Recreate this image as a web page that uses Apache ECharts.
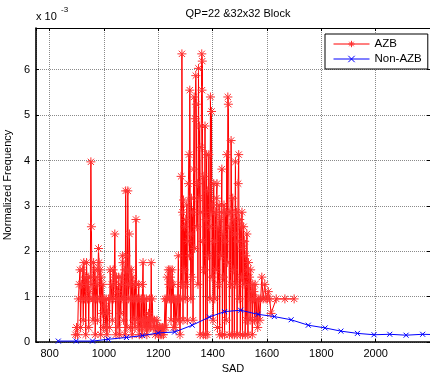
<!DOCTYPE html>
<html>
<head>
<meta charset="utf-8">
<script src="https://cdn.jsdelivr.net/npm/echarts@6/dist/echarts.min.js"></script>
<style>html,body{margin:0;padding:0;background:#fff;}#c{width:430px;height:374px;}</style>
</head>
<body>
<div id="c"></div>
<script>
// ---- data (frequency in units of 1e-3) ----
const titleText = 'QP=22 &32x32 Block';
const xTickLabels = ['800','1000','1200','1400','1600','1800','2000'];
const yTickLabels = ['0','1','2','3','4','5','6'];

const sadAZB = [
 895,899,903,906,909,912,914,917,919,921,924,926,929,931,933,936,938,940,942,944,946,948,950,952,954,956,958,960,962,964,966,968,970,972,974,976,978,980,982,984,986,988,990,992,994,996,998,1000,
 1002,1005,1008,1011,1014,1017,1020,1023,1026,1029,1031,1034,1036,1038,1040,1042,1044,1046,1048,1050,1052,1054,1056,1058,1060,1062,1064,1066,1068,1070,1072,1074,1076,1078,1080,1082,1084,1086,1088,1090,1092,1094,1096,1098,1100,1102,1104,1106,1108,1110,1112,1114,1116,1118,1120,1122,1124,1126,1128,1130,1132,1134,1136,1138,1140,1142,1144,1146,1148,1150,1152,1154,1156,1158,1160,1162,1164,1166,1168,1170,1172,1174,1176,1178,
 1180,1183,1186,1189,1192,1195,1198,1201,1204,1207,1210,1213,1216,1219,1222,1225,1228,1231,1233,1235,1237,1239,1241,1243,1245,1247,1249,1251,1253,1255,1257,1259,1262,1265,1268,1271,1274,1276,1278,1280,1282,1284,
 1286,1287,1289,1291,1293,1295,1297,1299,1301,1303,1305,1307,1309,1311,1313,1315,1316,1318,1320,1322,1324,1326,1328,1330,1332,1334,1336,1338,1340,1342,1344,1346,1348,1350,1352,1354,1356,1358,1360,1361,1362,1364,1366,1368,1370,1372,1374,1376,1378,1380,1382,1384,1386,1388,1390,1392,1394,1396,1398,1400,1402,1404,1406,1408,1410,1412,1414,1416,1418,1420,1422,1424,1426,1428,1430,1432,1434,1436,1438,1440,1442,1444,1446,1448,1450,1452,1454,1456,1458,1460,1462,1464,1466,1468,1470,1472,1474,1476,1478,1480,1482,1484,1486,1488,1490,1492,1494,1496,1498,1500,
 1502,1504,1506,1508,1510,1512,1514,1516,1518,1520,1522,1524,1526,1528,1530,1532,1534,1536,1538,1540,1542,1544,1546,1548,1550,1552,1554,1556,1560,1563,1566,1570,1574,1577,1581,1586,1592,1597,1602,1605,1610,1615,1634,1666,1700
];
const freqAZB = [
 0.16,0.32,0.16,0.95,1.27,1.59,0.32,1.27,0.95,1.59,0.48,1.75,0.95,1.43,0.16,1.75,1.27,0.95,1.43,0.32,1.11,0.95,1.43,3.97,2.54,1.27,0.95,0.48,1.75,0.95,1.59,0.16,1.43,0.95,1.27,0.48,1.59,2.06,1.75,0.95,1.59,0.16,1.43,0.95,0.63,1.27,0.32,0.95,
 0.79,0.32,0.95,0.16,0.63,0.95,0.32,1.59,0.95,1.27,0.48,1.59,0.95,1.43,2.38,1.27,0.16,1.43,0.95,1.11,0.32,1.43,0.95,0.16,1.27,0.63,1.43,0.95,1.90,1.75,0.48,0.95,1.59,0.16,3.33,1.90,0.32,1.27,3.33,0.95,1.59,2.38,1.27,0.32,1.59,0.95,0.16,1.43,0.95,0.48,1.27,0.32,0.95,2.70,1.27,0.48,0.95,0.32,1.27,0.16,0.95,0.48,0.32,0.95,0.16,1.27,1.75,0.48,0.32,0.95,0.48,0.32,0.95,0.16,0.48,0.32,0.63,0.32,0.95,0.48,0.32,1.75,0.48,0.95,
 0.48,0.32,0.48,0.16,0.32,0.48,0.32,0.16,0.32,0.16,0.32,0.16,0.32,0.16,0.32,0.95,0.32,0.95,1.43,0.95,1.59,1.27,0.95,1.59,1.43,0.48,1.27,1.59,0.95,1.27,0.32,0.95,0.32,0.95,0.48,0.95,1.90,0.48,0.95,0.16,0.95,3.65,
 1.27,6.35,2.86,0.48,3.13,1.59,2.54,0.95,2.70,1.27,3.02,0.48,2.22,3.49,4.13,1.90,5.55,2.38,0.95,3.17,1.43,2.86,0.48,3.81,5.40,2.06,4.92,5.87,5.24,2.54,3.49,1.27,6.03,3.17,4.76,0.16,2.86,4.29,6.35,5.55,6.19,2.22,0.16,3.65,1.59,4.76,0.16,2.70,4.13,0.16,3.33,1.90,4.13,2.54,0.95,5.40,2.86,5.08,1.43,3.02,0.48,3.49,2.22,0.95,2.86,1.59,3.17,3.49,0.32,2.54,1.27,3.02,0.16,2.70,1.90,2.86,3.81,0.16,2.38,1.43,3.02,0.16,2.22,2.86,0.48,4.13,1.75,5.40,5.24,2.86,0.16,2.54,1.27,4.44,2.86,0.16,3.17,1.59,2.70,0.16,2.38,3.97,1.27,2.86,0.16,2.22,3.49,4.13,0.95,2.70,
 0.16,2.54,1.43,2.86,0.16,2.06,2.54,1.27,2.22,0.16,1.90,0.48,2.38,1.59,0.16,1.75,1.27,1.43,0.48,1.59,0.95,1.11,0.16,1.27,0.95,1.11,0.48,1.27,0.48,0.95,0.32,0.95,0.48,0.95,1.43,0.95,1.27,0.95,0.95,1.11,0.95,0.63,0.95,0.95,0.95
];

const sadNonAZB = [832,898,958,1016,1083,1142,1200,1260,1325,1388,1444,1503,1567,1627,1689,1752,1814,1872,1933,1994,2052,2112,2173,2234];
const freqNonAZB = [0.02,0.02,0.02,0.06,0.10,0.14,0.20,0.22,0.37,0.55,0.67,0.70,0.61,0.56,0.49,0.37,0.31,0.24,0.19,0.16,0.17,0.15,0.17,0.16];

// ---- chart ----
const FONT = 'Liberation Sans, Arial, Helvetica, sans-serif';
const chart = echarts.init(document.getElementById('c'), null, {renderer: 'canvas'});
const star = 'path://M10,0L10,20M0,10L20,10M3,3L17,17M3,17L17,3';
const cross = 'path://M0,0L10,10M0,10L10,0';
const X_MIN = 750, X_MAX = 2200, Y_MIN = 0, Y_MAX = 6.92;

function xAx(pos, showLabels) {
  return {
    type: 'value', position: pos, min: X_MIN, max: X_MAX, splitNumber: 7,
    axisLine: {show: true, onZero: false, lineStyle: {color: '#000', width: pos === 'bottom' ? 1.6 : 1}},
    axisTick: {show: true, inside: true, length: 3, lineStyle: {color: '#000'}},
    axisLabel: {show: showLabels, showMinLabel: false, showMaxLabel: false, color: '#000', fontSize: 11, fontFamily: FONT, margin: 6,
      formatter: v => xTickLabels.includes(String(v)) ? String(v) : ''},
    splitLine: {show: showLabels, lineStyle: {color: '#8a8a8a', type: [1, 1], width: 1}},
    name: showLabels ? 'SAD' : '', nameLocation: 'middle', nameGap: 20,
    nameTextStyle: {color: '#000', fontSize: 11, fontFamily: FONT}
  };
}
function yAx(pos, showLabels) {
  return {
    type: 'value', position: pos, min: Y_MIN, max: Y_MAX, interval: 1,
    axisLine: {show: true, onZero: false, lineStyle: {color: '#000', width: pos === 'left' ? 1.6 : 1}},
    axisTick: {show: true, inside: true, length: 3, lineStyle: {color: '#000'}},
    axisLabel: {show: showLabels, showMaxLabel: false, color: '#000', fontSize: 11, fontFamily: FONT, margin: 6,
      formatter: v => yTickLabels.includes(String(v)) ? String(v) : ''},
    splitLine: {show: showLabels, lineStyle: {color: '#8a8a8a', type: [1, 1], width: 1}},
    name: showLabels ? 'Normalized Frequency' : '', nameLocation: 'middle', nameGap: 19, nameRotate: 90,
    nameTextStyle: {color: '#000', fontSize: 11, fontFamily: FONT}
  };
}

chart.setOption({
  animation: false,
  backgroundColor: '#fff',
  title: {text: titleText, left: 233, top: 3, textAlign: 'center',
    textStyle: {fontSize: 11, fontWeight: 'normal', color: '#000', fontFamily: FONT}},
  grid: {left: 36, top: 28, width: 394, height: 314, show: false, containLabel: false, outerBoundsMode: 'none'},
  xAxis: [xAx('bottom', true), xAx('top', false)],
  yAxis: [yAx('left', true), yAx('right', false)],
  legend: {
    left: 325, top: 34, orient: 'vertical', backgroundColor: '#fff', borderColor: '#000', borderWidth: 1,
    padding: [4, 6, 4, 8], itemGap: 3, itemWidth: 36, itemHeight: 8, itemGap: 3,
    itemStyle: {borderWidth: 1},
    lineStyle: {width: 1},
    textStyle: {fontSize: 11.5, color: '#000', fontFamily: FONT},
    data: ['AZB', 'Non-AZB']
  },
  graphic: [
    {type: 'text', left: 36, top: 11, style: {text: 'x 10', fontSize: 11, fontFamily: FONT, fill: '#000'}},
    {type: 'text', left: 61, top: 6, style: {text: '-3', fontSize: 8, fontFamily: FONT, fill: '#000'}}
  ],
  series: [
    {
      name: 'AZB', type: 'line', xAxisIndex: 0, yAxisIndex: 0,
      data: sadAZB.map((s, i) => [s, freqAZB[i]]),
      symbol: star, symbolSize: 9, showSymbol: true, showAllSymbol: true,
      lineStyle: {color: '#ff0000', width: 1},
      itemStyle: {color: '#ff0000', borderColor: '#ff3030', borderWidth: 1},
      clip: true, z: 2
    },
    {
      name: 'Non-AZB', type: 'line', xAxisIndex: 0, yAxisIndex: 0,
      data: sadNonAZB.map((s, i) => [s, freqNonAZB[i]]),
      symbol: cross, symbolSize: 5, showSymbol: true, showAllSymbol: true,
      lineStyle: {color: '#0000ff', width: 1},
      itemStyle: {color: '#0000ff', borderColor: '#0000ff', borderWidth: 1},
      clip: true, z: 3
    }
  ]
});
</script>
</body>
</html>
